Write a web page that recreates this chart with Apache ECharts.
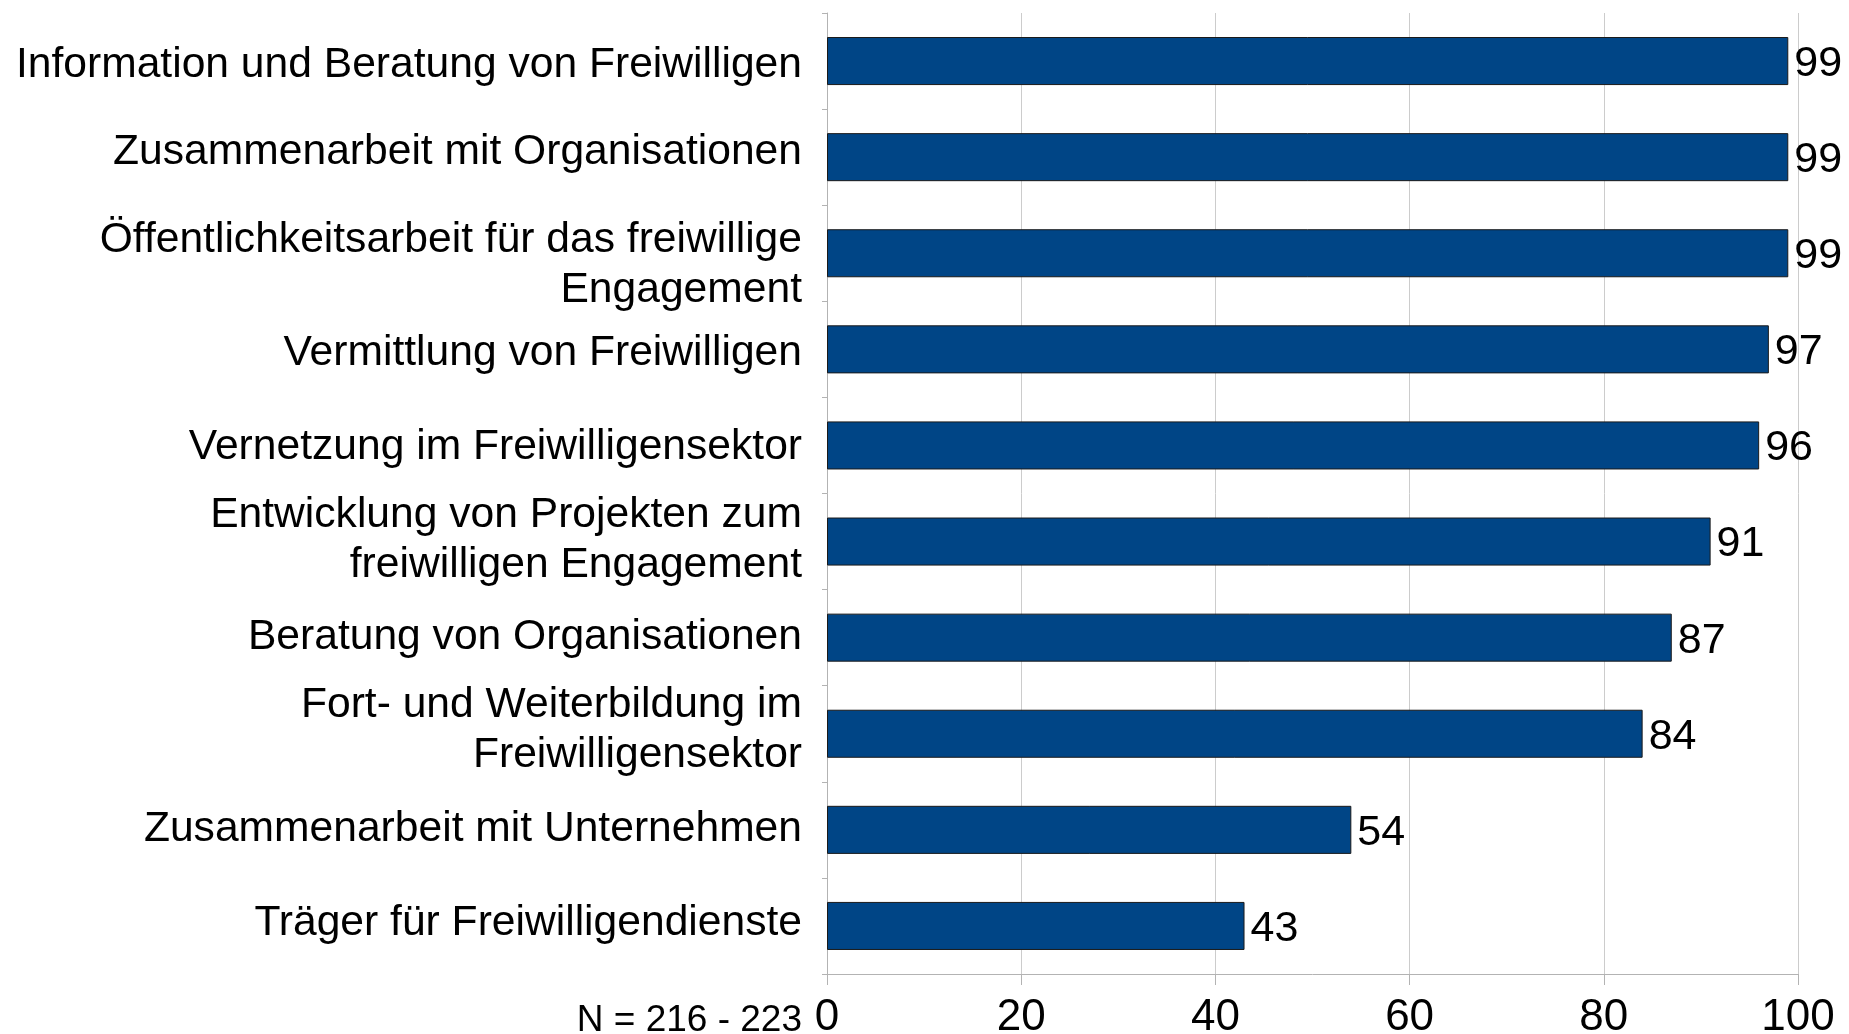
<!DOCTYPE html>
<html>
<head>
<meta charset="utf-8">
<script src="https://cdn.jsdelivr.net/npm/echarts@6/dist/echarts.min.js"></script>
<style>
html,body{margin:0;padding:0;background:#fff;overflow:hidden;}
#chart{width:1849px;height:1034px;}
</style>
</head>
<body>
<div id="chart"></div>
<script>
const categories = [
  "Information und Beratung von Freiwilligen",
  "Zusammenarbeit mit Organisationen",
  "Öffentlichkeitsarbeit für das freiwillige\nEngagement",
  "Vermittlung von Freiwilligen",
  "Vernetzung im Freiwilligensektor",
  "Entwicklung von Projekten zum\nfreiwilligen Engagement",
  "Beratung von Organisationen",
  "Fort- und Weiterbildung im\nFreiwilligensektor",
  "Zusammenarbeit mit Unternehmen",
  "Träger für Freiwilligendienste"
];
const values = [99, 99, 99, 97, 96, 91, 87, 84, 54, 43];
const xTicks = [0, 20, 40, 60, 80, 100];
const note = "N = 216 - 223";

const FONT = '"Liberation Sans", Arial, sans-serif';
// per-label vertical nudges (styling only): positive = move down
const labelShift = [4, -5, 12, 4, 2, -1, 0, -4, -1, -3];
const rich = {};
labelShift.forEach((s, i) => {
  rich['r' + i] = {
    fontFamily: FONT, fontSize: 42.6, lineHeight: 50, color: '#000', align: 'right',
    padding: s >= 0 ? [2 * s, 0, 0, 0] : [0, 0, -2 * s, 0]
  };
});

const chart = echarts.init(document.getElementById('chart'));
chart.setOption({
  animation: false,
  backgroundColor: '#ffffff',
  grid: { left: 827, right: 51, top: 13, bottom: 60, containLabel: false, outerBoundsMode: 'none' },
  xAxis: {
    type: 'value',
    min: xTicks[0],
    max: xTicks[xTicks.length - 1],
    interval: 20,
    axisLine: { show: true, lineStyle: { color: '#b3b3b3', width: 1 } },
    axisTick: { show: true, length: 11, lineStyle: { color: '#b3b3b3' } },
    splitLine: { show: true, lineStyle: { color: '#cccccc', width: 1 } },
    axisLabel: { color: '#000', fontFamily: FONT, fontSize: 44, margin: 22 }
  },
  yAxis: {
    type: 'category',
    data: categories,
    inverse: true,
    axisLine: { show: true, lineStyle: { color: '#b3b3b3', width: 1 } },
    axisTick: { show: true, length: 5, alignWithLabel: false, lineStyle: { color: '#b3b3b3' } },
    axisLabel: {
      color: '#000', fontFamily: FONT, fontSize: 42.6, lineHeight: 50, margin: 25, align: 'right',
      formatter: (v, i) => v.split('\n').map(l => `{r${i}|${l}}`).join('\n'),
      rich: rich
    }
  },
  series: [{
    type: 'bar',
    data: values,
    barWidth: '50%',
    itemStyle: { color: '#004586', borderColor: '#1a1a1a', borderWidth: 1 },
    label: { show: true, position: 'right', distance: 6, offset: [0, 3], color: '#000', fontFamily: FONT, fontSize: 43 }
  }],
  graphic: [{
    type: 'text',
    right: 1849 - 802,
    top: 1002,
    style: { text: note, fill: '#000', font: '37px ' + FONT, textAlign: 'right' }
  }]
});
</script>
</body>
</html>
